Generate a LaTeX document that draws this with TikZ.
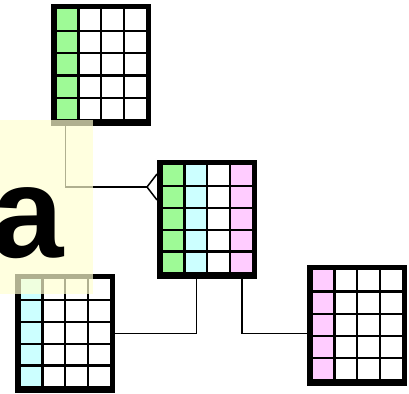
\documentclass[tikz,border=0pt]{standalone}
\usepackage{fontspec}
\setmainfont{Liberation Sans}
\usetikzlibrary{calc}
\definecolor{cgreen}{RGB}{158,250,150}
\definecolor{ccyan}{RGB}{204,255,255}
\definecolor{cpink}{RGB}{255,204,255}
\definecolor{cyel}{RGB}{255,255,209}
\tikzset{
  tblframe/.style={fill=black, inner sep=0pt, outer sep=0pt, anchor=north west, minimum width=100pt},
  conn/.style={line width=1.5pt, black},
  overlaybox/.style={fill=cyel, opacity=0.69},
  biglabel/.style={anchor=base west, inner sep=0pt, font=\fontsize{130}{130}\selectfont\bfseries}
}
\newcommand\dbtable[8]{%
  \node[tblframe, minimum height=#4pt] (#1) at (#2,#3) {};
  \pgfmathsetmacro\rp{(#4-12+2.2)/5}
  \foreach \cc [count=\ii from 0] in {#5,#6,#7,#8}{
    \foreach \rr in {0,...,4}{
      \fill[\cc] ({#2+5.7+\ii*22.8},{#3+5.3+\rr*\rp}) rectangle +(20.6,{\rp-2.2});
    }}
}
\begin{document}
\begin{tikzpicture}[x=1pt,y=-1pt]
\useasboundingbox (0,0) rectangle (409,393);
\dbtable{top}{51}{4}{122}{cgreen}{white}{white}{white}
\dbtable{mid}{157}{160}{119}{cgreen}{ccyan}{white}{cpink}
\dbtable{bl}{15}{274}{119}{ccyan}{white}{white}{white}
\dbtable{br}{307}{265}{121}{cpink}{white}{white}{white}
\coordinate (cf) at ($(mid.north west)+(-10,27)$);
\draw[conn] ($(top.south west)+(14.7,0)$) |- (cf);
\draw[conn] (cf) -- ($(mid.north west)+(0,14)$);
\draw[conn] (cf) -- ($(mid.north west)+(0,40)$);
\draw[conn] ($(mid.south)+(-10.7,0)$) |- (bl.east);
\draw[conn] ($(mid.south)+(35,0)$) |- ($(br.west)+(0,8)$);
\fill[overlaybox] (0,119.5) rectangle (93,293.5);
\node[biglabel] (alabel) at (-9,257.5) {a};
\end{tikzpicture}
\end{document}
